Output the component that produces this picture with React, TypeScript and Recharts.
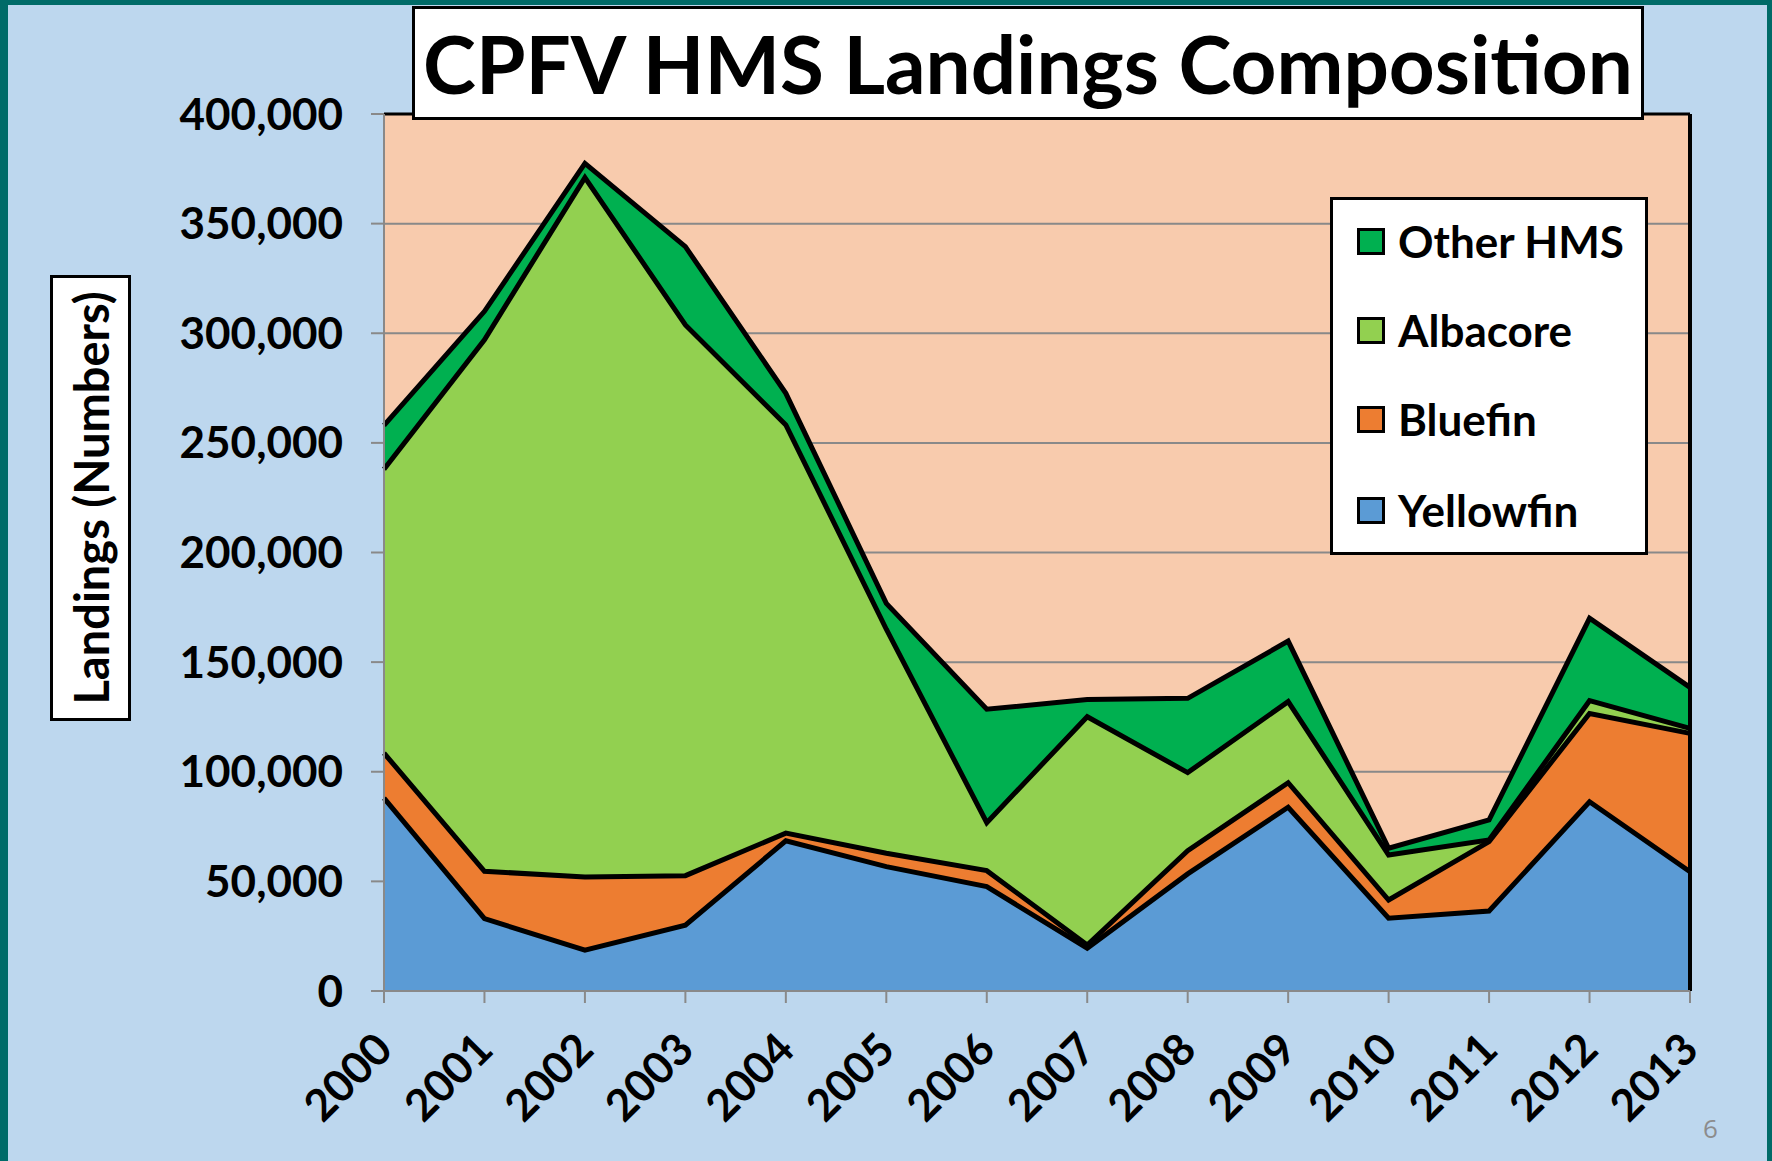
import { AreaChart, Area, XAxis, YAxis, CartesianGrid, ReferenceLine } from "recharts";

const years = [2000, 2001, 2002, 2003, 2004, 2005, 2006, 2007, 2008, 2009, 2010, 2011, 2012, 2013];
const yellowfin = [88000, 33000, 18600, 30000, 68500, 56700, 47600, 19500, 53400, 83800, 33200, 36500, 86300, 54400];
const bluefin = [20500, 21600, 33400, 22600, 3500, 6100, 7300, 1500, 10600, 11200, 8300, 31600, 40300, 63100];
const albacore = [129500, 242400, 319000, 251200, 186200, 102200, 21900, 104100, 35600, 37000, 20500, 800, 5800, 2300];
const otherHms = [20000, 13000, 6500, 35700, 14400, 11800, 51700, 7900, 33900, 27600, 3100, 9100, 37600, 18700];
const yTicks = [0, 50000, 100000, 150000, 200000, 250000, 300000, 350000, 400000];

const seriesNames = ["Yellowfin", "Bluefin", "Albacore", "Other HMS"];
const seriesColors = ["#5B9BD5", "#ED7D31", "#92D050", "#00B050"];

const data = years.map((year, i) => ({
  year,
  Yellowfin: yellowfin[i],
  Bluefin: bluefin[i],
  Albacore: albacore[i],
  "Other HMS": otherHms[i],
}));

const FONT = "Lato, 'Open Sans', sans-serif";
const TEAL = "#006B68";

function XTick({ x, y, payload }: any) {
  const ty = y + 36;
  return (
    <text x={x} y={ty} dy="0.35em" transform={`rotate(-45 ${x} ${ty})`} textAnchor="end"
      fontFamily={FONT} fontWeight={700} fontSize={44} fill="#000">
      {payload.value}
    </text>
  );
}

function LegendBox() {
  const items = seriesNames.map((n, i) => ({ n, c: seriesColors[i] })).reverse();
  const centers = [44, 133, 222, 313];
  return (
    <div style={{ position: "absolute", left: 1330, top: 197, width: 318, height: 358, boxSizing: "border-box", border: "3px solid #000", background: "#fff" }}>
      {items.map((it, i) => (
        <div key={it.n} style={{ position: "absolute", left: 24, top: centers[i] - 3 - 25, height: 50, display: "flex", alignItems: "center" }}>
          <div style={{ width: 28, height: 27, boxSizing: "border-box", border: "3px solid #000", background: it.c, marginRight: 13 }} />
          <span style={{ fontFamily: FONT, fontWeight: 700, fontSize: 44, color: "#000", whiteSpace: "nowrap" }}>{it.n}</span>
        </div>
      ))}
    </div>
  );
}

export default function App() {
  return (
    <div style={{ position: "absolute", left: 0, top: 0, width: 1772, height: 1161, background: "#BDD7EE", overflow: "hidden" }}>
      <div style={{ position: "absolute", left: 0, top: 0, width: 8, height: 1161, background: TEAL }} />
      <div style={{ position: "absolute", left: 0, top: 0, width: 1772, height: 5, background: TEAL }} />
      <div style={{ position: "absolute", right: 0, top: 0, width: 5, height: 1161, background: TEAL }} />

      <div style={{ position: "absolute", left: 0, top: 0 }}>
        <AreaChart width={1772} height={1161} data={data} margin={{ top: 114, right: 82, bottom: 50, left: 184 }}>
          <CartesianGrid vertical={false} fill="#F8CBAD" stroke="#898989" strokeWidth={2} />
          <XAxis dataKey="year" type="number" domain={[2000, 2013]} ticks={years} interval={0}
            stroke="#898989" strokeWidth={2} tickSize={12} tick={<XTick />} height={120} />
          <YAxis domain={[0, 400000]} ticks={yTicks} width={200} stroke="#898989" strokeWidth={2}
            tickSize={13} tickMargin={28} tickFormatter={(v: number) => v.toLocaleString("en-US")}
            tick={{ fill: "#000", fontFamily: FONT, fontWeight: 700, fontSize: 44 }} />
          {seriesNames.map((name, i) => (
            <Area key={name} type="linear" dataKey={name} stackId="fill" fill={seriesColors[i]} fillOpacity={1}
              stroke="none" isAnimationActive={false} />
          ))}
          {seriesNames.map(name => (
            <Area key={name + "-edge"} type="linear" dataKey={name} stackId="edge" fill="none" fillOpacity={0}
              stroke="#000" strokeWidth={5} strokeLinejoin="miter" isAnimationActive={false} />
          ))}
          <ReferenceLine y={400000} stroke="#000" strokeWidth={3} />
          <ReferenceLine x={2013} stroke="#000" strokeWidth={4} />
        </AreaChart>
      </div>

      <LegendBox />

      <div style={{ position: "absolute", left: 412, top: 6, width: 1232, height: 114, boxSizing: "border-box", border: "3px solid #000", background: "#fff",
        display: "flex", alignItems: "center", justifyContent: "center", fontFamily: FONT, fontWeight: 700, fontSize: 80, color: "#000" }}>
        CPFV HMS Landings Composition
      </div>

      <div style={{ position: "absolute", left: 50, top: 275, width: 81, height: 446, boxSizing: "border-box", border: "3px solid #000", background: "#fff",
        display: "flex", alignItems: "center", justifyContent: "center" }}>
        <div style={{ transform: "rotate(-90deg)", whiteSpace: "nowrap", fontFamily: FONT, fontWeight: 700, fontSize: 47, color: "#000" }}>
          Landings (Numbers)
        </div>
      </div>

      <div style={{ position: "absolute", left: 1703, top: 1110, fontFamily: "'Open Sans', sans-serif", fontSize: 26, color: "#8C8C8C" }}>6</div>
    </div>
  );
}
